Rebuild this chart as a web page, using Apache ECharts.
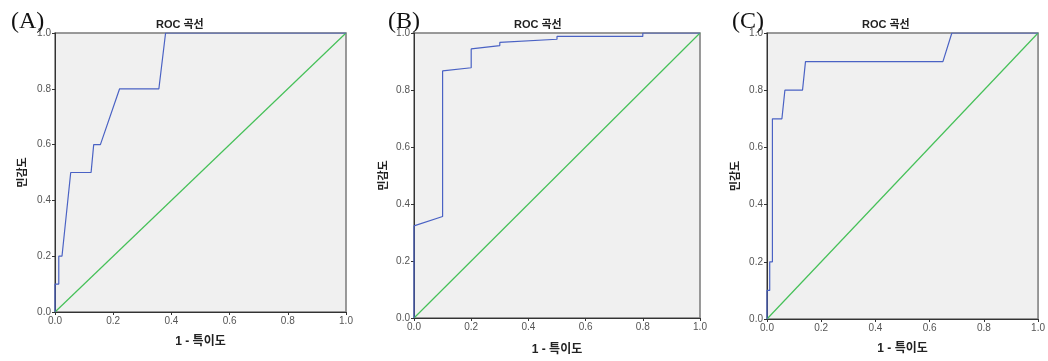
<!DOCTYPE html>
<html>
<head>
<meta charset="utf-8">
<script src="https://cdn.jsdelivr.net/npm/echarts@6/dist/echarts.min.js"></script>
<style>
html, body { margin: 0; padding: 0; background: #fff; }
#main { width: 1048px; height: 361px; }
</style>
</head>
<body>
<div id="main"></div>
<script>
// ROC curves: [1 - specificity, sensitivity]
var rocA = [[0, 0], [0, 0.1], [0.013, 0.1], [0.013, 0.2], [0.024, 0.2], [0.054, 0.5], [0.124, 0.5],
    [0.133, 0.6], [0.156, 0.6], [0.222, 0.8], [0.357, 0.8], [0.38, 1.0], [1, 1]];
var rocB = [[0, 0], [0, 0.323], [0.1, 0.356], [0.1, 0.867], [0.2, 0.878], [0.2, 0.944], [0.3, 0.956],
    [0.3, 0.967], [0.5, 0.978], [0.5, 0.988], [0.8, 0.988], [0.8, 1.0], [1, 1]];
var rocC = [[0, 0], [0, 0.1], [0.01, 0.1], [0.01, 0.2], [0.02, 0.2], [0.02, 0.7], [0.055, 0.7],
    [0.066, 0.8], [0.131, 0.8], [0.142, 0.9], [0.649, 0.9], [0.682, 1.0], [1, 1]];
var refLine = [[0, 0], [1, 1]];
var panelLabels = ['(A)', '(B)', '(C)'];
var chartTitle = 'ROC 곡선';
var xName = '1 - 특이도';
var yName = '민감도';

var chart = echarts.init(document.getElementById('main'));

var kr = '"Liberation Sans", "Noto Sans CJK KR", sans-serif';
var panels = [
    {grid: {left: 55, top: 33, width: 291, height: 279}, title: 151, label: 6, yGap: 27, xGap: 24},
    {grid: {left: 414, top: 33, width: 286, height: 288}, title: 509, label: 383, yGap: 25, xGap: 26},
    {grid: {left: 767, top: 33, width: 273, height: 286}, title: 857, label: 727, yGap: 26, xGap: 24}
];
var curves = [rocA, rocB, rocC];

var grids = [], xAxes = [], yAxes = [], series = [], titles = [];

panels.forEach(function (p, i) {
    grids.push(Object.assign({
        show: true,
        backgroundColor: '#f0f0f0',
        borderColor: '#7a7a7a',
        borderWidth: 1.5
    }, p.grid));

    var axisCommon = {
        gridIndex: i,
        type: 'value',
        min: 0,
        max: 1,
        interval: 0.2,
        axisLine: {show: true, lineStyle: {color: '#333', width: 1}},
        axisTick: {show: true, length: 3, lineStyle: {color: '#333'}},
        splitLine: {show: false},
        axisLabel: {
            color: '#555',
            fontSize: 10,
            fontFamily: 'Liberation Sans, Arial, sans-serif',
            margin: 4,
            formatter: function (v) { return v.toFixed(1); }
        },
        nameLocation: 'middle',
        nameTextStyle: {
            color: '#222',
            fontWeight: 'bold',
            fontFamily: kr
        }
    };
    xAxes.push(Object.assign({}, axisCommon, {
        name: xName,
        nameGap: p.xGap,
        nameTextStyle: Object.assign({}, axisCommon.nameTextStyle, {fontSize: 12})
    }));
    yAxes.push(Object.assign({}, axisCommon, {
        name: yName,
        nameGap: p.yGap,
        nameTextStyle: Object.assign({}, axisCommon.nameTextStyle, {fontSize: 11})
    }));

    series.push({
        type: 'line',
        xAxisIndex: i,
        yAxisIndex: i,
        data: refLine,
        symbol: 'none',
        silent: true,
        lineStyle: {color: '#45c058', width: 1.2}
    });
    series.push({
        type: 'line',
        xAxisIndex: i,
        yAxisIndex: i,
        data: curves[i],
        symbol: 'none',
        silent: true,
        lineStyle: {color: '#4a62c4', width: 1.2}
    });

    titles.push({
        text: chartTitle,
        left: p.title,
        top: 14,
        textStyle: {fontSize: 11, fontWeight: 'bold', color: '#222', fontFamily: kr}
    });
    titles.push({
        text: panelLabels[i],
        left: p.label,
        top: 5,
        textStyle: {fontSize: 24, fontWeight: 'normal', color: '#111', fontFamily: '"Liberation Serif", "DejaVu Serif", serif'}
    });
});

chart.setOption({
    animation: false,
    title: titles,
    grid: grids,
    xAxis: xAxes,
    yAxis: yAxes,
    series: series
});
</script>
</body>
</html>
